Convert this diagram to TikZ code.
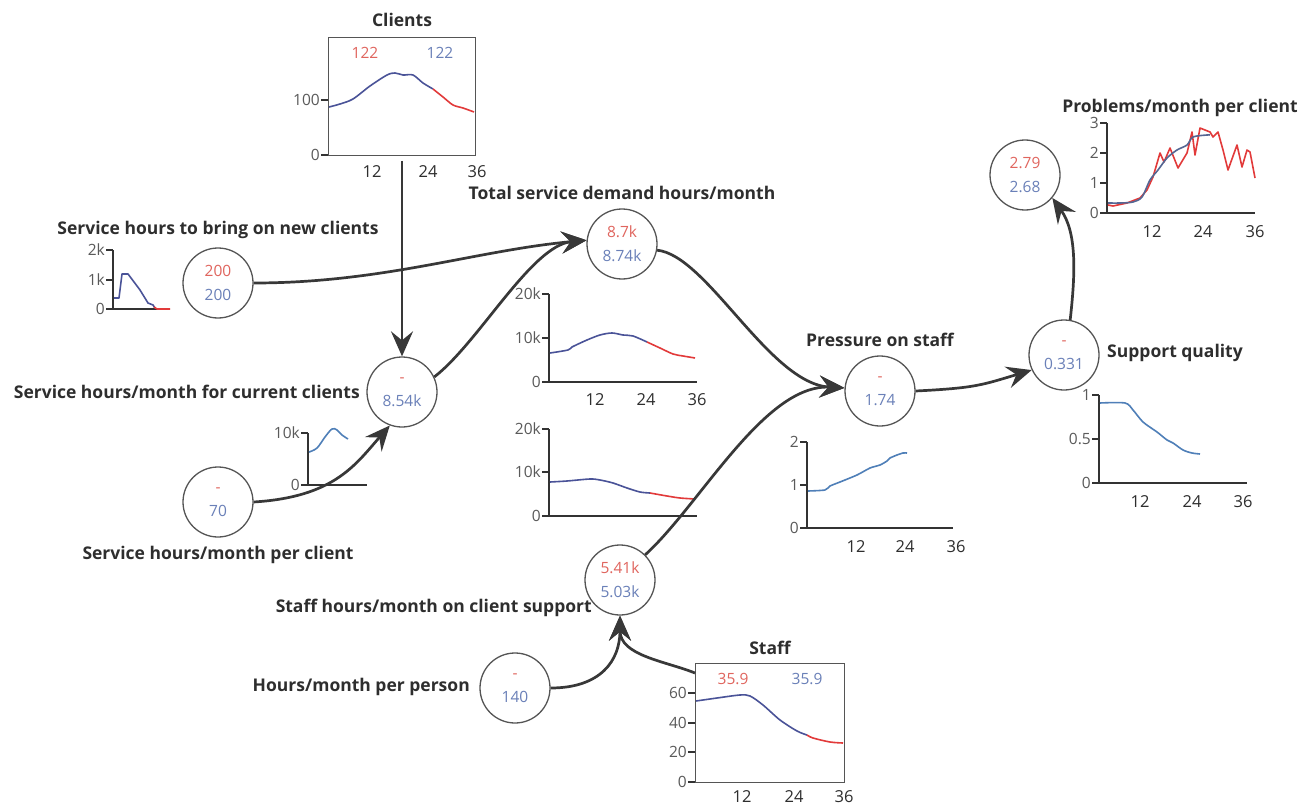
\documentclass[tikz,border=0pt]{standalone}
\usepackage{fontspec}
\setmainfont{Open Sans}
\usetikzlibrary{arrows.meta}

\definecolor{arrowgray}{HTML}{383838}
\definecolor{ringgray}{HTML}{555555}
\definecolor{ticktext}{HTML}{5A5A5A}
\definecolor{labeltext}{HTML}{2E2E2E}
\definecolor{valred}{HTML}{E0655E}
\definecolor{valblue}{HTML}{6A80B8}
\definecolor{simred}{HTML}{E23A3A}
\definecolor{simblue}{HTML}{4A5398}
\definecolor{steel}{HTML}{4F7FB8}

\newcommand\twovals[2]{\textcolor{valred}{#1}\\\textcolor{valblue}{#2}}
% y-axis tick with its label: x of axis, y, text, node name
\newcommand\ytk[4]{%
  \draw[axisline] (#1-7,#2) -- (#1,#2);
  \node[ticklbl,anchor=east] (#4) at (#1-7,#2) {#3};}

\tikzset{
  var/.style={circle, draw=ringgray, line width=1.3pt, minimum size=70pt,
    inner sep=0pt, align=center, font=\fontsize{15.5}{24}\selectfont},
  lbl/.style={font=\fontsize{17.5}{20}\selectfont\bfseries, text=labeltext, inner sep=0pt},
  ticklbl/.style={font=\fontsize{15.5}{17}\selectfont, text=ticktext, inner sep=1pt},
  xlbl/.style={font=\fontsize{16.5}{18}\selectfont, text=labeltext, inner sep=0pt},
  axisline/.style={draw=black!80, line width=1.3pt},
  stockbox/.style={draw=ringgray, line width=1.3pt, inner sep=0pt, anchor=north west},
  runblue/.style={draw=simblue, line width=1.6pt, line join=round},
  runred/.style={draw=simred, line width=1.6pt, line join=round},
  runsteel/.style={draw=steel, line width=1.6pt, line join=round},
  flow/.style={draw=arrowgray, line width=2.7pt,
    -{Stealth[length=25pt,width=22pt,inset=9pt]}},
}

\begin{document}
\begin{tikzpicture}[x=1pt,y=-1pt]
\fill[white] (0,0) rectangle (1311,805);
\useasboundingbox (0,0) rectangle (1311,805);

% ---------- stock: Clients ----------
\node[lbl] (tClients) at (402,20) {Clients};
\node[stockbox, minimum width=147pt, minimum height=118pt] (clientsBox) at (328,37) {};
\node[ticklbl, text=valred] (cR) at (365,53) {122};
\node[ticklbl, text=valblue] (cB) at (440,53) {122};
\ytk{328}{100}{100}{c100}
\ytk{328}{155}{0}{c0}
\node[xlbl] (cx12) at (372,172) {12};
\node[xlbl] (cx24) at (428,172) {24};
\node[xlbl] (cx36) at (477,172) {36};
\draw[runblue] plot[smooth, tension=0.5] coordinates {(329,107) (340,104) (353,99) (370,86) (387,75) (395,73) (403,75) (413,75) (423,83) (433,89)};
\draw[runred] plot[smooth, tension=0.5] coordinates {(433,89) (443,97) (453,105) (463,108) (474,112)};
\coordinate (clientsOut) at (402,161);

% ---------- stock: Staff ----------
\node[lbl] (tStaff) at (770,648) {Staff};
\node[stockbox, minimum width=149pt, minimum height=119pt] (staffBox) at (695,663) {};
\node[ticklbl, text=valred] (sR) at (733,679) {35.9};
\node[ticklbl, text=valblue] (sB) at (807,679) {35.9};
\ytk{695}{693}{60}{s60}
\ytk{695}{723}{40}{s40}
\ytk{695}{752}{20}{s20}
\ytk{695}{782}{0}{s0}
\node[xlbl] (sx12) at (742,797) {12};
\node[xlbl] (sx24) at (794,797) {24};
\node[xlbl] (sx36) at (844,797) {36};
\draw[runblue] plot[smooth, tension=0.5] coordinates {(696,701) (717,698) (740,695) (750,696) (763,705) (780,720) (797,731) (807,735)};
\draw[runred] plot[smooth, tension=0.5] coordinates {(807,735) (813,738) (830,742) (843,743)};
\coordinate (staffOut) at (695,673);

% ---------- variables ----------
\node[var] (A) at (218,283) {\twovals{200}{200}};
\node[var] (B) at (402,392) {\twovals{-}{8.54k}};
\node[var] (C) at (218,502) {\twovals{-}{70}};
\node[var] (D) at (622,244) {\twovals{8.7k}{8.74k}};
\node[var] (E) at (620,580) {\twovals{5.41k}{5.03k}};
\node[var] (F) at (515,688) {\twovals{-}{140}};
\node[var] (G) at (880,391) {\twovals{-}{1.74}};
\node[var] (H) at (1064,355) {\twovals{-}{0.331}};
\node[var] (I) at (1025,175) {\twovals{2.79}{2.68}};

% ---------- labels ----------
\node[lbl] (tNew) at (218,230) {Service hours to bring on new clients};
\node[lbl] (tTotal) at (622,193) {Total service demand hours/month};
\node[lbl, anchor=east] (tCur) at (360,392) {Service hours/month for current clients};
\node[lbl] (tPer) at (218,555) {Service hours/month per client};
\node[lbl, anchor=east] (tStaffH) at (592,608) {Staff hours/month on client support};
\node[lbl, anchor=east] (tHours) at (470,687) {Hours/month per person};
\node[lbl] (tPress) at (880,340) {Pressure on staff};
\node[lbl, anchor=west] (tQual) at (1107,353) {Support quality};
\node[lbl] (tProb) at (1180,108) {Problems/month per client};

% ---------- small chart: new-client hours ----------
\draw[axisline] (113,250) -- (113,309) -- (170,309);
\ytk{113}{250}{2k}{a2k}
\ytk{113}{280}{1k}{a1k}
\ytk{113}{309}{0}{a0}
\draw[runblue] (114,298) -- (119,298) -- (122,274) -- (128,274) -- (140,290) -- (148,303) -- (153,305) -- (155,308);
\draw[runred] (154,307) -- (157,309) -- (170,309);

% ---------- small chart: hours for current clients ----------
\draw[axisline] (308,433) -- (308,485) -- (367,485);
\ytk{308}{433}{10k}{b10k}
\ytk{308}{485}{0}{b0}
\draw[runsteel] plot[smooth, tension=0.6] coordinates {(309,452) (317,448) (325,437) (332,429) (337,430) (342,435) (348,439)};

% ---------- chart: total demand ----------
\draw[axisline] (549,294) -- (549,382) -- (697,382);
\ytk{549}{294}{20k}{d20k}
\ytk{549}{338}{10k}{d10k}
\ytk{549}{382}{0}{d0}
\node[xlbl] (dx12) at (595,400) {12};
\node[xlbl] (dx24) at (646,400) {24};
\node[xlbl] (dx36) at (697,400) {36};
\draw[runblue] plot[smooth, tension=0.5] coordinates {(550,353) (568,350) (572,347) (587,340) (600,335) (612,333) (623,335) (633,336) (647,342)};
\draw[runred] plot[smooth, tension=0.5] coordinates {(647,342) (660,348) (673,354) (683,356) (695,358)};

% ---------- chart: staff hours on support ----------
\draw[axisline] (549,429) -- (549,516) -- (697,516);
\ytk{549}{429}{20k}{e20k}
\ytk{549}{472}{10k}{e10k}
\ytk{549}{516}{0}{e0}
\draw[runblue] plot[smooth, tension=0.5] coordinates {(550,482) (567,481) (590,479) (600,480) (613,483) (627,488) (640,492) (650,493)};
\draw[runred] plot[smooth, tension=0.5] coordinates {(650,493) (667,496) (680,498) (695,499)};

% ---------- chart: pressure ----------
\draw[axisline] (807,442) -- (807,528) -- (953,528);
\ytk{807}{442}{2}{g2}
\ytk{807}{485}{1}{g1}
\ytk{807}{528}{0}{g0}
\node[xlbl] (gx12) at (856,547) {12};
\node[xlbl] (gx24) at (905,547) {24};
\node[xlbl] (gx36) at (956,547) {36};
\draw[runsteel] plot[smooth, tension=0.4] coordinates {(808,491) (825,490) (830,486) (840,482) (857,475) (870,468) (880,465) (887,461) (890,458) (897,455) (903,453) (907,453)};

% ---------- chart: support quality ----------
\draw[axisline] (1099,395) -- (1099,483) -- (1247,483);
\ytk{1099}{395}{1}{h1}
\ytk{1099}{439}{0.5}{h05}
\ytk{1099}{483}{0}{h0}
\node[xlbl] (hx12) at (1140,502) {12};
\node[xlbl] (hx24) at (1192,502) {24};
\node[xlbl] (hx36) at (1243,502) {36};
\draw[runsteel] plot[smooth, tension=0.5] coordinates {(1100,403) (1125,403) (1133,410) (1143,422) (1157,432) (1167,440) (1173,443) (1183,450) (1192,453) (1200,454)};

% ---------- chart: problems per client ----------
\draw[axisline] (1107,123) -- (1107,213) -- (1255,213);
\ytk{1107}{123}{3}{i3}
\ytk{1107}{153}{2}{i2}
\ytk{1107}{183}{1}{i1}
\ytk{1107}{213}{0}{i0}
\node[xlbl] (ix12) at (1152,232) {12};
\node[xlbl] (ix24) at (1203,232) {24};
\node[xlbl] (ix36) at (1255,232) {36};
\draw[runred] (1108,205) -- (1113,206) -- (1127,203) -- (1140,198) -- (1147,190) -- (1153,177) -- (1160,153) -- (1164,162) -- (1170,148) -- (1178,168) -- (1187,153) -- (1192,132) -- (1195,155) -- (1200,128) -- (1210,132) -- (1213,137) -- (1218,132) -- (1223,150) -- (1228,170) -- (1237,145) -- (1242,167) -- (1247,150) -- (1250,152) -- (1255,178);
\draw[draw=valblue!80!black, line width=1.6pt, line join=round] plot[smooth, tension=0.5] coordinates {(1108,203) (1120,203) (1133,202) (1142,197) (1150,180) (1158,170) (1167,158) (1177,150) (1187,145) (1193,137) (1207,135) (1210,135)};

% ---------- connectors ----------
\draw[flow] (clientsOut) -- (B.north);
\draw[flow] (A.east) .. controls +(130,0) and +(-110,10) .. (D.174);
\draw[flow] (B.25) .. controls +(45,-35) and +(-55,5) .. (D.174);
\draw[flow] (C.east) .. controls +(80,-5) and +(-35,40) .. (B.250);
\draw[flow] (D.350) .. controls +(50,5) and +(-75,-4) .. (G.175);
\draw[flow] (E.45) .. controls +(55,-50) and +(-80,-4) .. (G.175);
\draw[flow] (G.east) .. controls +(60,-3) and +(-50,15) .. (H.205);
\draw[flow] (H.80) .. controls +(5,-45) and +(25,35) .. (I.320);
\draw[flow] (F.east) .. controls +(50,0) and +(0,45) .. (E.south);
\draw[flow] (staffOut) .. controls +(-30,-12) and +(0,40) .. (E.south);
\end{tikzpicture}
\end{document}
